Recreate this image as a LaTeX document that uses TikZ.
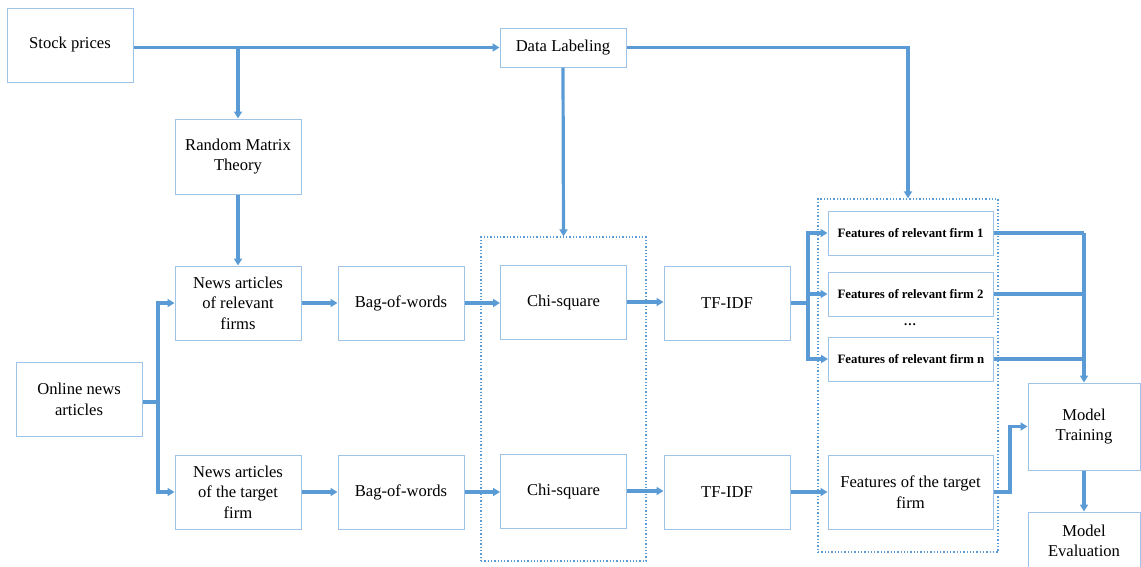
\documentclass[tikz,border=0pt]{standalone}
\usepackage{fontspec}
\setmainfont{Liberation Serif}
\usetikzlibrary{arrows.meta}
\definecolor{lineblue}{RGB}{91,155,213}
\definecolor{boxblue}{RGB}{157,195,230}
\begin{document}
\begin{tikzpicture}[x=1pt,y=-1pt,
  box/.style={draw=boxblue, line width=1pt, minimum width=126pt, minimum height=74pt,
    align=center, font=\fontsize{16.6}{20.5}\selectfont, inner sep=2pt},
  fbox/.style={box, minimum width=165pt, minimum height=44pt,
    font=\bfseries\fontsize{12.8}{15}\selectfont},
  arr/.style={draw=lineblue, line width=3.2pt, -{Triangle[length=7pt,width=8pt]}},
  ln/.style={draw=lineblue, line width=3.2pt},
  grp/.style={draw=lineblue, line width=1.3pt, dotted, inner sep=0pt}]
\useasboundingbox (0,0) rectangle (1141,566);
% groups
\node[grp, minimum width=165pt, minimum height=324pt] (g1) at (563.5,399) {};
\node[grp, minimum width=180pt, minimum height=353pt] (g2) at (908,375.5) {};
% nodes
\node[box] (sp) at (70,45) {Stock prices};
\node[box, minimum height=39pt] (dl) at (563,47.5) {Data Labeling};
\node[box, minimum height=75pt] (rmt) at (238,156.5) {Random Matrix\\Theory};
\node[box] (nr) at (238,303) {News articles\\of relevant\\firms};
\node[box] (bw1) at (401,303) {Bag-of-words};
\node[box] (cs1) at (563.5,302) {Chi-square};
\node[box] (tf1) at (727,303) {TF-IDF};
\node[fbox] (f1) at (910.5,233) {Features of relevant firm 1};
\node[fbox] (f2) at (910.5,294) {Features of relevant firm 2};
\node[font=\bfseries\fontsize{12.8}{15}\selectfont, inner sep=0pt] (dots) at (910,325) {\ldots};
\node[fbox] (fn) at (911,359) {Features of relevant firm n};
\node[box] (on) at (79,399.5) {Online news\\articles};
\node[box] (nt) at (238,492) {News articles\\of the target\\firm};
\node[box] (bw2) at (401,492) {Bag-of-words};
\node[box] (cs2) at (563.5,491) {Chi-square};
\node[box] (tf2) at (727,492) {TF-IDF};
\node[box, minimum width=165pt] (ft) at (910.5,492) {Features of the target\\firm};
\node[box, minimum width=112pt, minimum height=87pt] (mt) at (1084,426.5) {Model\\Training};
\node[box, minimum width=112pt, minimum height=58pt] (me) at (1084,541) {Model\\Evaluation};
% connectors
\coordinate (j1) at (238,47);
\draw[arr] (sp.east |- dl.west) -- (dl.west);
\draw[arr] (j1) -- (rmt.north);
\draw[arr] (dl.east) -| (g2.north);
\draw[arr] (dl.south) -- (g1.north);
\draw[arr] (rmt) -- (nr);
\coordinate (j2) at (158,402);
\draw[ln] (on.east |- j2) -- (j2);
\draw[arr] (j2) |- (nr.west);
\draw[arr] (j2) |- (nt.west);
\draw[arr] (nr) -- (bw1);
\draw[arr] (bw1) -- (cs1.west |- bw1);
\draw[arr] (cs1) -- (tf1.west |- cs1);
\draw[arr] (nt) -- (bw2);
\draw[arr] (bw2) -- (cs2.west |- bw2);
\draw[arr] (cs2) -- (tf2.west |- cs2);
\coordinate (j3) at (808,303);
\draw[ln] (tf1.east) -- (j3);
\draw[arr] (j3) |- (f1.west);
\draw[arr] (j3) |- (f2.west);
\draw[arr] (j3) |- (fn.west);
\draw[arr] (tf2) -- (ft);
\draw[ln] (f1.east) -- (f1.east -| mt.north);
\draw[ln] (f2.east) -- (f2.east -| mt.north);
\draw[ln] (fn.east) -- (fn.east -| mt.north);
\draw[arr] (f1.east -| mt.north) -- (mt.north);
\coordinate (j5) at (1010,492);
\draw[arr] (ft.east) -- (j5) |- (mt.west);
\draw[arr] (mt) -- (me);
\end{tikzpicture}
\end{document}
